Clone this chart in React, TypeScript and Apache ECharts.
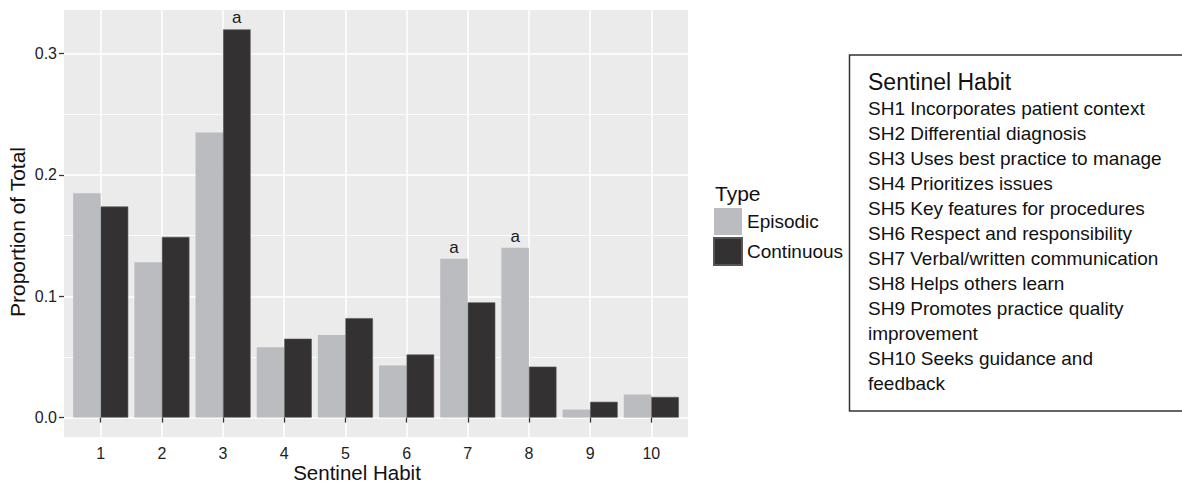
import React, { useEffect, useRef } from "react";
import * as echarts from "echarts";

const habits = [1, 2, 3, 4, 5, 6, 7, 8, 9, 10];
const episodic = [0.185, 0.128, 0.235, 0.058, 0.068, 0.043, 0.131, 0.14, 0.0066, 0.019];
const continuous = [0.174, 0.149, 0.32, 0.065, 0.082, 0.052, 0.095, 0.042, 0.013, 0.017];
const episodicSig = ["", "", "", "", "", "", "a", "a", "", ""];
const continuousSig = ["", "", "a", "", "", "", "", "", "", ""];
const yMajorTicks = [0, 0.1, 0.2, 0.3];
const yMinorTicks = [0.05, 0.15, 0.25];
const legendTitle = "Type";
const seriesNames = ["Episodic", "Continuous"];
const xTitle = "Sentinel Habit";
const yTitle = "Proportion of Total";
const boxTitle = "Sentinel Habit";
const habitLines = [
  "SH1 Incorporates patient context",
  "SH2 Differential diagnosis",
  "SH3 Uses best practice to manage",
  "SH4 Prioritizes issues",
  "SH5 Key features for procedures",
  "SH6 Respect and responsibility",
  "SH7 Verbal/written communication",
  "SH8 Helps others learn",
  "SH9 Promotes practice quality",
  "improvement",
  "SH10 Seeks guidance and",
  "feedback",
];

const FONT = "'Liberation Sans', Arial, Helvetica, sans-serif";

export default function App() {
  const ref = useRef<HTMLDivElement>(null);
  useEffect(() => {
    if (!ref.current) return;
    const chart = echarts.init(ref.current, undefined, { renderer: "svg" });
    const mk = (vals: number[], sig: string[]) =>
      habits.map((h, i) => ({
        value: [h, vals[i]],
        label: { show: sig[i] !== "" },
      }));
    const labelCfg = (sig: string[]) => ({
      position: "top",
      distance: 3,
      fontSize: 17,
      fontFamily: FONT,
      color: "#1a1a1a",
      formatter: (p: any) => sig[p.dataIndex],
    });
    const graphic: any[] = [
      {
        type: "text",
        x: 17,
        y: 232,
        rotation: Math.PI / 2,
        style: { text: yTitle, fontSize: 21, fontFamily: FONT, fill: "#111", textAlign: "center", textVerticalAlign: "middle" },
      },
      {
        type: "text",
        x: 357,
        y: 472,
        style: { text: xTitle, fontSize: 20.5, fontFamily: FONT, fill: "#111", textAlign: "center", textVerticalAlign: "middle" },
      },
      {
        type: "text",
        x: 715,
        y: 193,
        style: { text: legendTitle, fontSize: 21, fontFamily: FONT, fill: "#111", textAlign: "left", textVerticalAlign: "middle" },
      },
      {
        type: "rect",
        shape: { x: 849.5, y: 55, width: 400, height: 356 },
        style: { fill: "#fff", stroke: "#333", lineWidth: 1.5 },
      },
      {
        type: "text",
        x: 868,
        y: 82,
        style: { text: boxTitle, fontSize: 23, fontFamily: FONT, fill: "#111", textAlign: "left", textVerticalAlign: "middle" },
      },
      ...habitLines.map((t, i) => ({
        type: "text",
        x: 868,
        y: 108.5 + i * 25,
        style: { text: t, fontSize: 19, fontFamily: FONT, fill: "#111", textAlign: "left", textVerticalAlign: "middle" },
      })),
    ];
    chart.setOption({
      animation: false,
      backgroundColor: "#fff",
      grid: {
        left: 64,
        top: 10,
        width: 624,
        height: 427,
        show: true,
        backgroundColor: "#EBEBEB",
        borderWidth: 0,
      },
      legend: {
        data: seriesNames,
        orient: "vertical",
        left: 713,
        top: 208,
        icon: "rect",
        itemWidth: 28,
        itemHeight: 27,
        itemGap: 2,
        padding: 0,
        textStyle: { fontSize: 19, fontFamily: FONT, color: "#111" },
      },
      xAxis: {
        type: "value",
        min: 0.4,
        max: 10.6,
        axisLine: { show: false },
        axisTick: { show: true, length: 5, customValues: habits, lineStyle: { color: "#333", width: 1.3 } },
        axisLabel: { customValues: habits, margin: 8, fontSize: 16, fontFamily: FONT, color: "#222" },
        splitLine: { show: true, lineStyle: { color: "#fff", width: 1.5 } },
      },
      yAxis: [
        {
          type: "value",
          min: -0.016,
          max: 0.336,
          axisLine: { show: false },
          axisTick: { show: true, length: 5, customValues: yMajorTicks, lineStyle: { color: "#333", width: 1.3 } },
          axisLabel: {
            customValues: yMajorTicks,
            margin: 7,
            fontSize: 16,
            fontFamily: FONT,
            color: "#222",
            formatter: (v: number) => v.toFixed(1),
          },
          splitLine: { show: true, lineStyle: { color: "#fff", width: 1.5 } },
        },
        {
          type: "value",
          min: -0.016,
          max: 0.336,
          position: "left",
          axisLine: { show: false },
          axisTick: { show: false, customValues: yMinorTicks },
          axisLabel: { show: false, customValues: yMinorTicks },
          splitLine: { show: true, lineStyle: { color: "#fff", width: 0.8 } },
        },
      ],
      series: [
        {
          name: seriesNames[0],
          type: "bar",
          yAxisIndex: 0,
          barWidth: "45%",
          barGap: "0%",
          itemStyle: { color: "#BBBCBF" },
          label: labelCfg(episodicSig),
          data: mk(episodic, episodicSig),
        },
        {
          name: seriesNames[1],
          type: "bar",
          yAxisIndex: 0,
          barWidth: "45%",
          barGap: "0%",
          itemStyle: { color: "#333132", borderColor: "#555", borderWidth: 0.6 },
          label: labelCfg(continuousSig),
          data: mk(continuous, continuousSig),
        },
      ],
      graphic,
    });
    return () => chart.dispose();
  }, []);
  return <div ref={ref} style={{ position: "absolute", left: 0, top: 0, width: 1182, height: 482 }} />;
}
